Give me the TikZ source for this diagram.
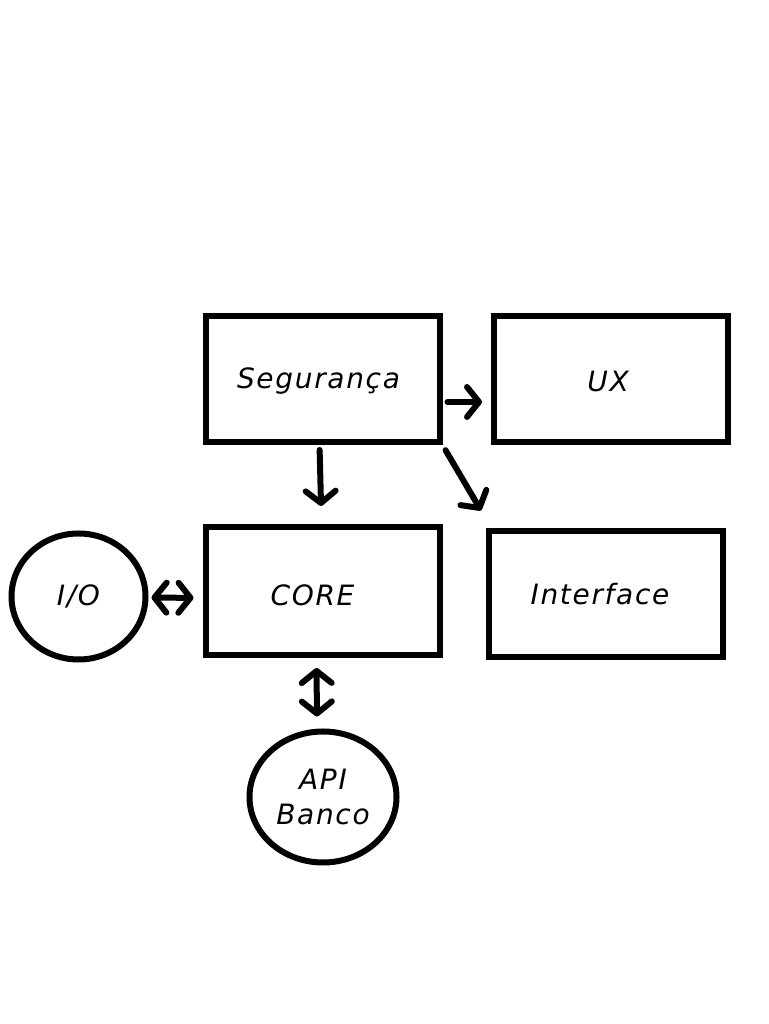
\documentclass[tikz,border=0pt]{standalone}
\usepackage{fontspec}
\setsansfont{DejaVu Sans}[LetterSpace=6]
\usetikzlibrary{positioning,shapes,arrows.meta,calc}

\begin{document}
\begin{tikzpicture}[x=1pt,y=1pt,font=\sffamily\itshape\fontsize{28}{35}\selectfont,
 bloco/.style={draw, line width=6pt, minimum width=234pt, minimum height=126pt, inner sep=0pt},
 bola/.style={draw, ellipse, line width=6pt, inner sep=0pt, align=center},
 seta/.style={line width=6pt, line cap=round, -{Straight Barb[length=12pt,width=30pt,round]}},
 seta2/.style={seta, {Straight Barb[length=12pt,width=30pt,round]}-{Straight Barb[length=12pt,width=30pt,round]}}]

  \useasboundingbox (0,0) rectangle (768,1024);

  \node[bloco] (seg) at (322.5,645) {\raisebox{-2pt}[\height][\depth]{\hspace*{-8pt}Segurança}};
  \node[bloco] (ux) at (611,645) {\raisebox{-3pt}[\height][\depth]{\hspace*{-6pt}UX}};
  \node[bloco, minimum height=128pt] (core) at (322.5,433) {\raisebox{-4pt}[\height][\depth]{\hspace*{-20pt}CORE}};
  \node[bloco] (iface) at (606,429.5) {\hspace*{-12pt}Interface};
  \node[bola, minimum width=134pt, minimum height=126pt] (io) at (78.5,427.5) {I/O};
  \node[bola, minimum width=147pt, minimum height=131pt] (api) at (323,227) {API\\Banco};

  %\draw[seta] (seg) -- (core);
  \draw[seta, shorten <=5pt, shorten >=9pt] ([yshift=-23pt]seg.east) -- ([yshift=-23pt]ux.west) ;
  \draw[seta, shorten <=5pt, shorten >=18pt] ([xshift=-3pt]seg.south) -- ([xshift=-1pt]core.north);
  \draw[seta, shorten <=6pt] (seg.south east) -- ([xshift=-5pt,yshift=18pt]iface.north west);
  \draw[seta2, shorten <=3pt, shorten >=9pt] ([yshift=-1pt]io.east) -- ([yshift=-7pt]core.west);
  \draw[seta2, shorten <=10pt, shorten >=12pt] ([xshift=-6pt]core.south) -- ([xshift=-6pt]api.north);
\end{tikzpicture}
\end{document}
